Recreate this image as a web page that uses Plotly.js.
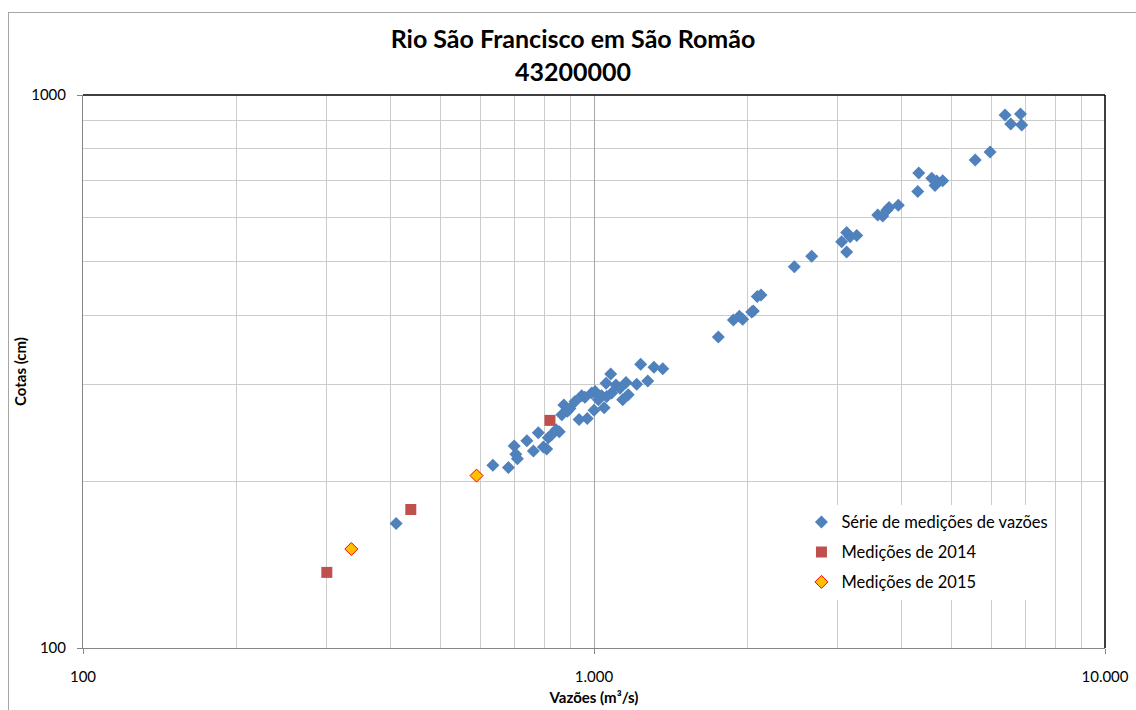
<!DOCTYPE html>
<html>
<head>
<meta charset="utf-8">
<script src="https://cdn.plot.ly/plotly-3.0.1.min.js"></script>
<style>
  html, body { margin: 0; padding: 0; background: #fff; width: 1136px; height: 710px; overflow: hidden; }
  #frame { position: absolute; left: 8px; top: 12px; width: 1140px; height: 720px; border: 1px solid #a6a6a6; box-sizing: border-box; }
  #chart { position: absolute; left: 0; top: 0; width: 1136px; height: 710px; }
</style>
</head>
<body>
<div id="frame"></div>
<div id="chart"></div>
<script>
// Série de medições de vazões
const serieQ = [410, 634, 680, 698, 703, 708, 739, 761, 778, 796, 808, 814, 826, 843, 855, 865, 873, 887, 897, 918, 935, 946, 960, 970, 990, 1005, 1000, 1020, 1035, 1047, 1056, 1059, 1078, 1083, 1104, 1124, 1138, 1155, 1167, 1212, 1234, 1274, 1310, 1363, 1751, 1874, 1925, 1954, 2035, 2050, 2087, 2122, 2466, 2667, 3052, 3122, 3170, 3267, 3122, 3592, 3673, 3740, 3779, 3940, 4301, 4320, 4581, 4649, 4684, 4813, 5572, 5957, 6374, 6540, 6834, 6871];
const serieH = [168, 214, 212, 232, 224, 220, 237, 227, 245, 231, 229, 240, 243, 248, 246, 264, 275, 268, 271, 279, 259, 286, 284, 260, 289, 291, 269, 281, 286, 272, 301, 285, 313, 289, 299, 295, 281, 302, 287, 300, 326, 304, 322, 320, 365, 392, 398, 393, 405, 407, 432, 435, 489, 511, 543, 564, 554, 557, 520, 607, 604, 619, 626, 632, 669, 723, 707, 686, 699, 700, 763, 789, 920, 886, 924, 883];
// Medições de 2014
const q2014 = [300, 438, 820];
const h2014 = [137, 178, 258];
// Medições de 2015
const q2015 = [335, 589];
const h2015 = [151, 205];

const seriesNames = ['Série de medições de vazões', 'Medições de 2014', 'Medições de 2015'];
const xTickVals = [100, 1000, 10000];
const xTickText = ['100', '1.000', '10.000'];
const xMinorVals = [200, 300, 400, 500, 600, 700, 800, 900, 2000, 3000, 4000, 5000, 6000, 7000, 8000, 9000];
const yTickVals = [100, 1000];
const yTickText = ['100', '1000'];
const yMinorVals = [200, 300, 400, 500, 600, 700, 800, 900];

const FONT = 'Lato, "Open Sans", sans-serif';

const traces = [
  { x: serieQ, y: serieH, type: 'scatter', mode: 'markers', name: seriesNames[0], legendgroup: 'a',
    marker: { symbol: 'diamond', size: 10, color: '#4F81BD', line: { width: 0 } } },
  { x: q2014, y: h2014, type: 'scatter', mode: 'markers', name: seriesNames[1], legendgroup: 'b',
    marker: { symbol: 'square', size: 11, color: '#C0504D', line: { width: 0 } } },
  { x: q2015, y: h2015, type: 'scatter', mode: 'markers', name: seriesNames[2], legendgroup: 'c',
    marker: { symbol: 'diamond', size: 10, color: '#FFC000', line: { width: 1, color: '#FF0000' } } }
];

const layout = {
  width: 1136, height: 710,
  margin: { l: 83, r: 31, t: 95, b: 62 },
  paper_bgcolor: 'rgba(0,0,0,0)',
  plot_bgcolor: '#fff',
  font: { family: FONT, color: '#000', size: 15 },
  title: {
    text: '<b>Rio São Francisco em São Romão</b><br><b>43200000</b>',
    font: { family: FONT, size: 25, color: '#000' },
    x: 573 / 1136, xref: 'container', xanchor: 'center',
    y: 1 - 48 / 710, yref: 'container', yanchor: 'top'
  },
  xaxis: {
    type: 'log', range: [2, 4],
    tickmode: 'array', tickvals: xTickVals, ticktext: xTickText,
    ticks: 'outside', ticklen: 5, tickcolor: '#868686',
    ticklabelstandoff: 10,
    showgrid: true, gridcolor: '#a6a6a6', gridwidth: 1,
    minor: { tickmode: 'array', tickvals: xMinorVals, showgrid: true, gridcolor: '#cccccc', gridwidth: 1, ticks: '' },
    showline: true, linecolor: '#868686', linewidth: 1, mirror: false,
    zeroline: false,
    tickfont: { size: 15, family: FONT },
    title: { text: '<b>Vazões (m³/s)</b>', font: { size: 15, family: FONT }, standoff: 8 },
    automargin: false
  },
  yaxis: {
    type: 'log', range: [2, 3],
    tickmode: 'array', tickvals: yTickVals, ticktext: yTickText,
    ticks: 'outside', ticklen: 5, tickcolor: '#868686',
    ticklabelstandoff: 8,
    showgrid: true, gridcolor: '#a6a6a6', gridwidth: 1,
    minor: { tickmode: 'array', tickvals: yMinorVals, showgrid: true, gridcolor: '#cccccc', gridwidth: 1, ticks: '' },
    showline: true, linecolor: '#868686', linewidth: 1, mirror: false,
    zeroline: false,
    tickfont: { size: 15, family: FONT },
    title: { text: '<b>Cotas (cm)</b>', font: { size: 15, family: FONT }, standoff: 0 },
    automargin: false
  },
  shapes: [
    { type: 'line', xref: 'paper', yref: 'paper', x0: 0, x1: 1, y0: 1, y1: 1, line: { color: '#000', width: 1.5 } },
    { type: 'line', xref: 'paper', yref: 'paper', x0: 1, x1: 1, y0: 0, y1: 1, line: { color: '#000', width: 1.5 } }
  ],
  showlegend: true,
  legend: {
    x: 0.703, y: 0.259, xanchor: 'left', yanchor: 'top',
    bgcolor: '#fff', borderwidth: 0,
    font: { size: 16.5, family: FONT, color: '#000' },
    traceorder: 'grouped', tracegroupgap: 5.5,
    itemwidth: 30
  }
};

Plotly.newPlot('chart', traces, layout, { displayModeBar: false, staticPlot: true });
</script>
</body>
</html>
